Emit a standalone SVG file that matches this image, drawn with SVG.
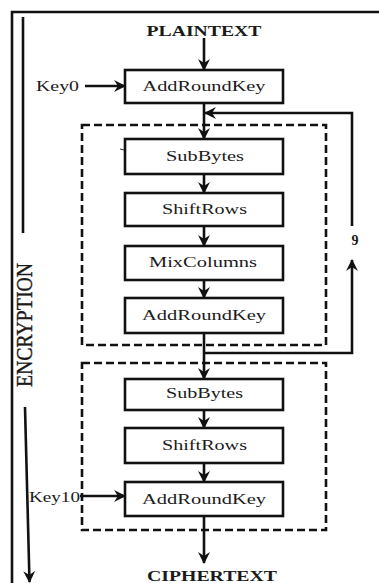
<svg xmlns="http://www.w3.org/2000/svg" width="379" height="583" viewBox="0 0 379 583">
<defs>
<style>
.box{fill:#fff;stroke:#111;stroke-width:2.6}
.lbl{font-family:"Liberation Serif","Times New Roman",serif;font-size:15px;fill:#1a1a1a;text-anchor:middle}
.bold{font-weight:bold}
.dash{fill:none;stroke:#111;stroke-width:2.6;stroke-dasharray:8 4}
.ln{fill:none;stroke:#111;stroke-width:2.6}
.arr{fill:none;stroke:#111;stroke-width:2.6;marker-end:url(#ah)}
</style>
<marker id="ah" viewBox="0 0 12 12" refX="11" refY="6" markerWidth="12" markerHeight="12" markerUnits="userSpaceOnUse" orient="auto">
<path d="M0,0 L12,6 L0,12 L4,6 z" fill="#111"/>
</marker>
</defs>
<rect width="379" height="583" fill="#fff"/>
<g id="frame">
<path class="ln" d="M12,583 V12 H379"/>
</g>
<g id="encryption">
<line class="ln" x1="23" y1="17" x2="23" y2="233"/>
<text class="lbl" x="32" y="325" style="font-size:24px;stroke:#1a1a1a;stroke-width:0.4" textLength="124" lengthAdjust="spacingAndGlyphs" transform="rotate(-90 32 325)">ENCRYPTION</text>
<line class="arr" x1="25" y1="407" x2="29.5" y2="582"/>
</g>
<g id="round-groups">
<rect class="dash" x="82" y="125" width="244" height="220"/>
<rect class="dash" x="82" y="363" width="244" height="167"/>
</g>
<g id="connectors">
<line class="arr" x1="204" y1="38" x2="204" y2="70"/>
<line class="arr" x1="85" y1="86" x2="125" y2="86"/>
<line class="arr" x1="204" y1="103" x2="204" y2="139"/>
<line class="arr" x1="204" y1="174" x2="204" y2="193"/>
<line class="arr" x1="204" y1="226" x2="204" y2="246"/>
<line class="arr" x1="204" y1="280" x2="204" y2="298"/>
<line class="arr" x1="204" y1="333" x2="204" y2="379"/>
<line class="arr" x1="204" y1="410" x2="204" y2="428"/>
<line class="arr" x1="204" y1="463" x2="204" y2="482"/>
<line class="arr" x1="80" y1="496" x2="125" y2="496"/>
<line class="arr" x1="204" y1="516" x2="204" y2="563"/>
<path class="arr" d="M204,353 H352 V260"/>
<path class="arr" d="M352,226 V113 H205"/>
<line x1="120" y1="149" x2="124" y2="150" stroke="#333" stroke-width="1"/>
</g>
<g id="plaintext"><text class="lbl bold" x="204" y="36" textLength="115" lengthAdjust="spacingAndGlyphs">PLAINTEXT</text></g>
<g id="key0"><text class="lbl" x="57.5" y="91" textLength="43" lengthAdjust="spacingAndGlyphs">Key0</text></g>
<g id="b1"><rect class="box" x="125" y="70" width="158" height="33"/><text class="lbl" x="204" y="91" textLength="123" lengthAdjust="spacingAndGlyphs">AddRoundKey</text></g>
<g id="b2"><rect class="box" x="125" y="139" width="158" height="35"/><text class="lbl" x="205" y="161" textLength="78" lengthAdjust="spacingAndGlyphs">SubBytes</text></g>
<g id="b3"><rect class="box" x="125" y="193" width="158" height="33"/><text class="lbl" x="204.5" y="214" textLength="85" lengthAdjust="spacingAndGlyphs">ShiftRows</text></g>
<g id="b4"><rect class="box" x="125" y="246" width="158" height="34"/><text class="lbl" x="203" y="267" textLength="108" lengthAdjust="spacingAndGlyphs">MixColumns</text></g>
<g id="b5"><rect class="box" x="125" y="298" width="158" height="35"/><text class="lbl" x="204" y="320" textLength="124" lengthAdjust="spacingAndGlyphs">AddRoundKey</text></g>
<g id="loop-count"><text class="lbl bold" x="355" y="245" style="font-size:14px">9</text></g>
<g id="b6"><rect class="box" x="125" y="379" width="158" height="31"/><text class="lbl" x="204.5" y="398" textLength="77" lengthAdjust="spacingAndGlyphs">SubBytes</text></g>
<g id="b7"><rect class="box" x="125" y="428" width="158" height="35"/><text class="lbl" x="204.5" y="450" textLength="85" lengthAdjust="spacingAndGlyphs">ShiftRows</text></g>
<g id="key10"><text class="lbl" x="54.5" y="502" textLength="51" lengthAdjust="spacingAndGlyphs">Key10</text></g>
<g id="b8"><rect class="box" x="125" y="482" width="158" height="34"/><text class="lbl" x="204" y="504" textLength="124" lengthAdjust="spacingAndGlyphs">AddRoundKey</text></g>
<g id="ciphertext"><text class="lbl bold" x="212" y="581" textLength="130" lengthAdjust="spacingAndGlyphs">CIPHERTEXT</text></g>
</svg>
